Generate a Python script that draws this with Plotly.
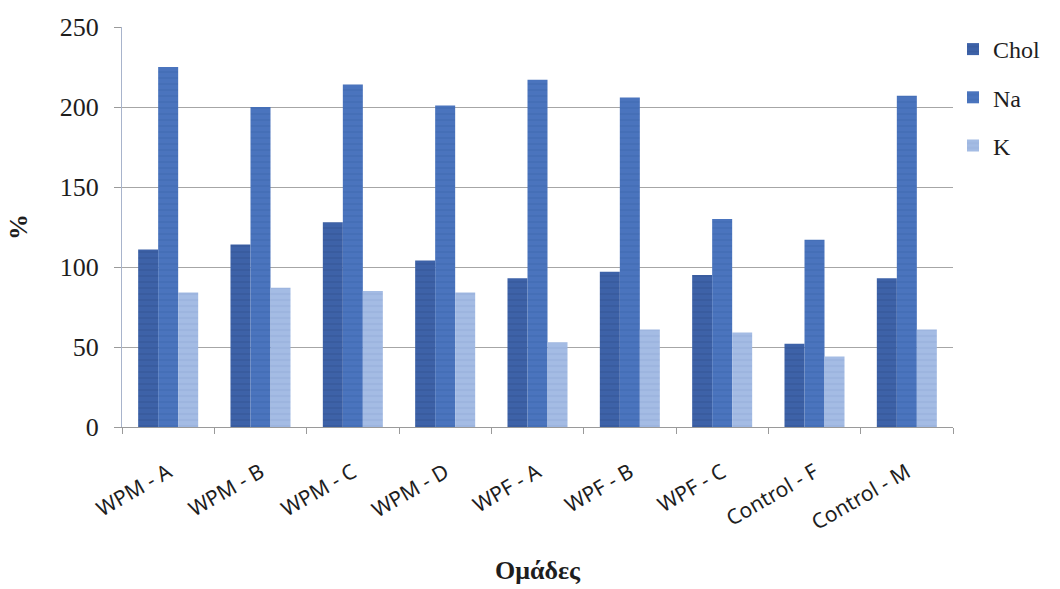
import plotly.graph_objects as go

# Group labels and measured values (% of reference)
groups = ["WPM - A", "WPM - B", "WPM - C", "WPM - D", "WPF - A",
          "WPF - B", "WPF - C", "Control - F", "Control - M"]
chol = [111, 114, 128, 104, 93, 97, 95, 52, 93]
na = [225, 200, 214, 201, 217, 206, 130, 117, 207]
k = [84, 87, 85, 84, 53, 61, 59, 44, 61]

# name, values, fill colour, faint stripe colour
series = [
    ("Chol", chol, "#3d62a8", "#2f4f8f"),
    ("Na", na, "#4a74be", "#3a62a8"),
    ("K", k, "#a4bce4", "#8ea8d6"),
]

fig = go.Figure()
for name, vals, color, stripe in series:
    fig.add_trace(go.Bar(
        x=groups, y=vals, name=name, legendgroup=name,
        marker=dict(
            color=color, line=dict(width=0),
            pattern=dict(shape="-", fgcolor=stripe, fgopacity=0.35,
                         size=6, solidity=0.35),
        ),
    ))

serif = "Liberation Serif, Times New Roman, serif"

fig.update_layout(
    width=1060, height=589,
    margin=dict(l=122, r=107, t=27, b=162),
    paper_bgcolor="white", plot_bgcolor="white",
    barmode="group", bargap=0.35, bargroupgap=0,
    showlegend=True,
    legend=dict(
        x=1.0, y=1.0, xanchor="left", yanchor="top",
        traceorder="grouped", tracegroupgap=14,
        font=dict(family=serif, size=24, color="#1e1e1e"),
        bgcolor="rgba(0,0,0,0)",
    ),
    xaxis=dict(
        showline=True, linecolor="#9a9a9a", linewidth=1,
        ticks="outside", tickson="boundaries", ticklen=6, tickcolor="#9a9a9a",
        tickangle=-30, ticklabelstandoff=24,
        tickfont=dict(family="Noto Sans, sans-serif", size=21, color="#1e1e1e"),
        showgrid=False,
    ),
    yaxis=dict(
        range=[0, 250], dtick=50, tick0=0,
        showline=True, linecolor="#a8b4cc", linewidth=1,
        ticks="outside", ticklen=7, tickcolor="#9a9a9a",
        ticklabelstandoff=10,
        showgrid=True, gridcolor="#a6a6a6", gridwidth=1,
        zeroline=False,
        tickfont=dict(family=serif, size=26, color="#1e1e1e"),
    ),
    annotations=[
        dict(text="<b>Ομάδες</b>", xref="paper", yref="paper", x=0.5, y=0,
             yshift=-143, xanchor="center", yanchor="middle", showarrow=False,
             font=dict(family=serif, size=26, color="#1e1e1e")),
        dict(text="<b>%</b>", xref="paper", yref="paper", x=0, y=0.5,
             xshift=-104, xanchor="center", yanchor="middle", showarrow=False,
             textangle=-90,
             font=dict(family=serif, size=26, color="#1e1e1e")),
    ],
)

fig.write_html("out.html")
